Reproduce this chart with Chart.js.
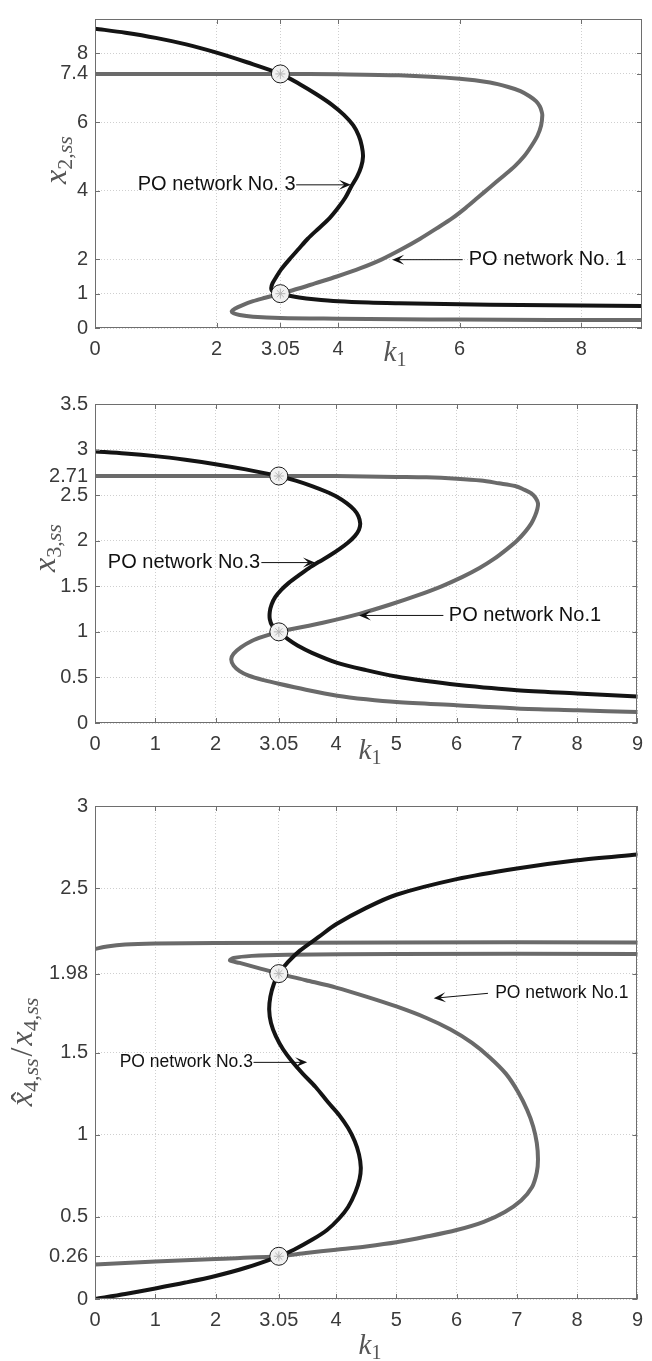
<!DOCTYPE html>
<html>
<head>
<meta charset="utf-8">
<script src="https://cdn.jsdelivr.net/npm/chart.js@4.4.1/dist/chart.umd.min.js"></script>
<style>
html,body{margin:0;padding:0;background:#ffffff;}
#wrap{position:relative;width:652px;height:1361px;overflow:hidden;}
canvas{position:absolute;left:0;}
</style>
</head>
<body>
<div id="wrap">
<canvas id="c1" width="652" height="380" style="top:0px;width:652px;height:380px"></canvas>
<canvas id="c2" width="652" height="400" style="top:380px;width:652px;height:400px"></canvas>
<canvas id="c3" width="652" height="581" style="top:780px;width:652px;height:581px"></canvas>
</div>
<script>
// ---------------- DATA ----------------
// Panel 1: x2,ss vs k1
const p1XTicks = [0, 2, 3.05, 4, 6, 8];
const p1XTickLabels = ['0', '2', '3.05', '4', '6', '8'];
const p1YTicks = [0, 1, 2, 4, 6, 7.4, 8];
const p1YTickLabels = ['0', '1', '2', '4', '6', '7.4', '8'];
const p1No3K = [0, 0.5, 1, 1.5, 2, 2.5, 3.05, 3.37, 3.65, 3.9, 4.1, 4.25, 4.34, 4.39, 4.41, 4.38, 4.31, 4.21, 4.12, 4.0, 3.86, 3.68, 3.5, 3.35, 3.2, 3.06, 2.98, 2.92, 2.9, 2.91, 2.96, 3.05, 3.2, 3.36, 3.6, 4.0, 4.5, 5, 6, 7, 8, 9];
const p1No3Y = [8.72, 8.60, 8.45, 8.26, 8.02, 7.74, 7.40, 7.1, 6.8, 6.5, 6.2, 5.9, 5.6, 5.3, 5.0, 4.7, 4.4, 4.1, 3.8, 3.5, 3.2, 2.9, 2.6, 2.3, 2.0, 1.7, 1.48, 1.3, 1.17, 1.09, 1.03, 1.0, 0.94, 0.89, 0.84, 0.78, 0.74, 0.72, 0.69, 0.67, 0.655, 0.64];
const p1No1K = [0, 1, 2, 3.05, 4, 5, 6, 6.5, 6.8, 7.0, 7.15, 7.26, 7.32, 7.35, 7.36, 7.34, 7.28, 7.18, 7.06, 6.9, 6.7, 6.5, 6.3, 6.1, 5.88, 5.62, 5.35, 5.05, 4.72, 4.38, 3.98, 3.62, 3.35, 3.05, 2.8, 2.6, 2.42, 2.3, 2.25, 2.28, 2.38, 2.6, 3.05, 4, 5, 6, 7.5, 9];
const p1No1Y = [7.4, 7.4, 7.4, 7.4, 7.39, 7.36, 7.26, 7.15, 7.02, 6.9, 6.75, 6.6, 6.45, 6.3, 6.2, 5.9, 5.6, 5.3, 5.0, 4.7, 4.4, 4.1, 3.8, 3.5, 3.2, 2.9, 2.6, 2.3, 2.0, 1.75, 1.5, 1.3, 1.15, 1.0, 0.88, 0.78, 0.66, 0.56, 0.49, 0.43, 0.38, 0.33, 0.29, 0.27, 0.255, 0.245, 0.235, 0.23];
const p1CrossK = [3.05, 3.05];
const p1CrossY = [7.4, 1.0];

// Panel 2: x3,ss vs k1
const p2XTicks = [0, 1, 2, 3.05, 4, 5, 6, 7, 8, 9];
const p2XTickLabels = ['0', '1', '2', '3.05', '4', '5', '6', '7', '8', '9'];
const p2YTicks = [0, 0.5, 1, 1.5, 2, 2.5, 2.71, 3, 3.5];
const p2YTickLabels = ['0', '0.5', '1', '1.5', '2', '2.5', '2.71', '3', '3.5'];
const p2No3K = [0, 0.5, 1, 1.5, 2, 2.5, 3.05, 3.33, 3.6, 3.83, 4.02, 4.18, 4.3, 4.37, 4.40, 4.38, 4.31, 4.2, 4.06, 3.9, 3.72, 3.55, 3.38, 3.22, 3.09, 2.99, 2.93, 2.9, 2.9, 2.94, 3.05, 3.2, 3.36, 3.6, 4.02, 4.5, 5, 5.5, 6, 7, 8, 9];
const p2No3Y = [2.98, 2.958, 2.928, 2.888, 2.84, 2.783, 2.71, 2.66, 2.6, 2.54, 2.48, 2.41, 2.34, 2.27, 2.19, 2.12, 2.05, 1.98, 1.91, 1.84, 1.77, 1.70, 1.62, 1.54, 1.46, 1.38, 1.30, 1.22, 1.14, 1.07, 1.0, 0.92, 0.85, 0.77, 0.66, 0.58, 0.51, 0.46, 0.42, 0.36, 0.325, 0.29];
const p2No1K = [0, 2, 3.05, 4, 5, 5.5, 6, 6.4, 6.7, 6.97, 7.12, 7.24, 7.31, 7.35, 7.34, 7.3, 7.24, 7.14, 7.0, 6.82, 6.62, 6.38, 6.09, 5.75, 5.35, 4.9, 4.4, 3.78, 3.05, 2.8, 2.6, 2.42, 2.3, 2.26, 2.3, 2.4, 2.55, 2.8, 3.05, 3.5, 4.02, 4.5, 5, 6, 7, 8, 9];
const p2No1Y = [2.71, 2.71, 2.71, 2.71, 2.70, 2.695, 2.68, 2.66, 2.63, 2.6, 2.56, 2.52, 2.47, 2.41, 2.35, 2.27, 2.19, 2.1, 2.0, 1.9, 1.8, 1.7, 1.6, 1.5, 1.4, 1.3, 1.2, 1.1, 1.0, 0.95, 0.9, 0.83, 0.76, 0.7, 0.63, 0.57, 0.52, 0.47, 0.43, 0.365, 0.30, 0.26, 0.23, 0.195, 0.16, 0.14, 0.12];
const p2CrossK = [3.05, 3.05];
const p2CrossY = [2.71, 1.0];

// Panel 3: x^4,ss / x4,ss vs k1
const p3XTicks = [0, 1, 2, 3.05, 4, 5, 6, 7, 8, 9];
const p3XTickLabels = ['0', '1', '2', '3.05', '4', '5', '6', '7', '8', '9'];
const p3YTicks = [0, 0.26, 0.5, 1, 1.5, 1.98, 2.5, 3];
const p3YTickLabels = ['0', '0.26', '0.5', '1', '1.5', '1.98', '2.5', '3'];
const p3No3K = [0, 0.5, 1, 1.5, 2, 2.5, 3.05, 3.3, 3.6, 3.85, 4.05, 4.2, 4.32, 4.39, 4.41, 4.38, 4.31, 4.2, 4.05, 3.86, 3.66, 3.45, 3.26, 3.12, 3.0, 2.92, 2.89, 2.91, 2.97, 3.05, 3.2, 3.4, 3.7, 4.0, 4.5, 5, 6, 7, 8, 9];
const p3No3Y = [0, 0.03, 0.064, 0.1, 0.14, 0.19, 0.26, 0.3, 0.36, 0.42, 0.49, 0.56, 0.65, 0.73, 0.8, 0.88, 0.96, 1.04, 1.12, 1.2, 1.29, 1.37, 1.45, 1.52, 1.6, 1.68, 1.76, 1.84, 1.92, 1.98, 2.05, 2.12, 2.2, 2.28, 2.38, 2.46, 2.555, 2.62, 2.67, 2.705];
const p3No1K = [0, 1, 2, 3.05, 3.5, 4, 4.5, 5, 5.5, 6, 6.45, 6.8, 7.07, 7.25, 7.33, 7.35, 7.33, 7.27, 7.17, 7.02, 6.82, 6.55, 6.25, 5.9, 5.5, 5.0, 4.5, 4.0, 3.5, 3.05, 2.7, 2.4, 2.24, 2.3, 2.6, 3.2, 5, 9];
const p3No1Y = [0.21, 0.228, 0.244, 0.26, 0.28, 0.30, 0.32, 0.345, 0.38, 0.42, 0.47, 0.53, 0.6, 0.68, 0.77, 0.85, 0.95, 1.05, 1.15, 1.26, 1.37, 1.47, 1.56, 1.64, 1.71, 1.78, 1.84, 1.895, 1.94, 1.98, 2.015, 2.045, 2.06, 2.075, 2.088, 2.095, 2.1, 2.1];
const p3No1bK = [0, 0.2, 0.5, 1, 2, 5, 9];
const p3No1bY = [2.13, 2.145, 2.157, 2.163, 2.166, 2.17, 2.17];
const p3CrossK = [3.05, 3.05];
const p3CrossY = [1.98, 0.26];

// ---------------- STYLE / HELPERS ----------------
const SANS = '"Liberation Sans", Arial, Helvetica, sans-serif';
const SERIF = '"Liberation Serif", "Times New Roman", serif';
const BLACK = '#141414';
const GRAY = '#6a6a6a';
const FRAME = '#6e6e6e';
const TICKTXT = '#3a3a3a';
const TITLE = '#555555';

function pts(ks, ys) { return ks.map((k, i) => ({ x: k, y: ys[i] })); }

function drawArrow(ctx, x1, y1, x2, y2) {
  const L = 12, W = 5;
  const ang = Math.atan2(y2 - y1, x2 - x1);
  const c = Math.cos(ang), s = Math.sin(ang);
  ctx.save();
  ctx.strokeStyle = '#111'; ctx.lineWidth = 1;
  ctx.beginPath(); ctx.moveTo(x1, y1); ctx.lineTo(x2 - c * L * 0.5, y2 - s * L * 0.5); ctx.stroke();
  ctx.fillStyle = '#111';
  ctx.beginPath();
  ctx.moveTo(x2, y2);
  ctx.lineTo(x2 - c * L - s * W, y2 - s * L + c * W);
  ctx.lineTo(x2 - c * L * 0.55, y2 - s * L * 0.55);
  ctx.lineTo(x2 - c * L + s * W, y2 - s * L - c * W);
  ctx.closePath(); ctx.fill();
  ctx.restore();
}

function partFont(p) { return (p.it ? 'italic ' : '') + p.s + 'px ' + SERIF; }
function partsWidth(ctx, parts) {
  let w = 0;
  for (const p of parts) { ctx.font = partFont(p); w += ctx.measureText(p.t).width + (p.gap || 0); }
  return w;
}
function drawParts(ctx, parts, x, y) {
  let cx = x;
  for (const p of parts) {
    ctx.font = partFont(p);
    const w = ctx.measureText(p.t).width;
    ctx.fillText(p.t, cx, y + (p.dy || 0));
    if (p.hat) {
      ctx.font = p.s + 'px ' + SERIF;
      const hw = ctx.measureText('\u02C6').width;
      ctx.fillText('\u02C6', cx + w / 2 - hw / 2 + 2, y + (p.dy || 0) + 1);
    }
    cx += w + (p.gap || 0);
  }
}

function makeChart(id, cfg) {
  const ctx = document.getElementById(id).getContext('2d');
  const lookup = (ticks, labels) => (v) => {
    for (let i = 0; i < ticks.length; i++) if (Math.abs(ticks[i] - v) < 1e-9) return labels[i];
    return '';
  };
  const decor = {
    id: 'decor_' + id,
    afterDatasetsDraw(chart) {
      const c = chart.ctx, a = chart.chartArea, xs = chart.scales.x, ys = chart.scales.y;
      c.save();
      c.strokeStyle = FRAME; c.lineWidth = 1;
      c.strokeRect(Math.round(a.left) + 0.5, Math.round(a.top) + 0.5, Math.round(a.right - a.left) - 1, Math.round(a.bottom - a.top) - 1);
      const T = 5;
      c.beginPath();
      cfg.xTicks.forEach(v => {
        const px = Math.round(xs.getPixelForValue(v)) + 0.5;
        c.moveTo(px, a.bottom); c.lineTo(px, a.bottom - T);
        c.moveTo(px, a.top); c.lineTo(px, a.top + T);
      });
      cfg.yTicks.forEach(v => {
        const py = Math.round(ys.getPixelForValue(v)) + 0.5;
        c.moveTo(a.left, py); c.lineTo(a.left + T, py);
        c.moveTo(a.right, py); c.lineTo(a.right - T, py);
      });
      c.stroke();
      c.restore();
    },
    afterDraw(chart) {
      const c = chart.ctx, xs = chart.scales.x, ys = chart.scales.y;
      c.save();
      cfg.notes.forEach(n => {
        c.font = n.size + 'px ' + SANS;
        c.fillStyle = '#111';
        c.textBaseline = 'middle';
        c.textAlign = n.align;
        c.fillText(n.text, xs.getPixelForValue(n.tx), ys.getPixelForValue(n.ty));
        drawArrow(c, xs.getPixelForValue(n.ax1), ys.getPixelForValue(n.ay1), xs.getPixelForValue(n.ax2), ys.getPixelForValue(n.ay2));
      });
      c.textAlign = 'left'; c.textBaseline = 'alphabetic'; c.fillStyle = TITLE;
      const xw = partsWidth(c, cfg.xTitle);
      drawParts(c, cfg.xTitle, cfg.xTitlePos[0] - xw / 2, cfg.xTitlePos[1]);
      c.save();
      c.translate(cfg.yTitlePos[0], cfg.yTitlePos[1]);
      c.rotate(-Math.PI / 2);
      const yw = partsWidth(c, cfg.yTitle);
      drawParts(c, cfg.yTitle, -yw / 2, 8);
      c.restore();
      c.restore();
    }
  };
  return new Chart(ctx, {
    type: 'scatter',
    data: { datasets: cfg.datasets },
    options: {
      responsive: false, animation: false, devicePixelRatio: 1,
      layout: { padding: { top: cfg.padTop, right: 7, left: 0, bottom: 0 } },
      plugins: { legend: { display: false }, tooltip: { enabled: false } },
      scales: {
        x: {
          type: 'linear', min: 0, max: 9,
          afterBuildTicks: s => { s.ticks = cfg.xTicks.map(v => ({ value: v })); },
          afterFit: s => { s.height = cfg.xAxisH; },
          ticks: { autoSkip: false, maxRotation: 0, padding: 9, color: TICKTXT, font: { family: SANS, size: 20 }, callback: lookup(cfg.xTicks, cfg.xTickLabels) },
          grid: { color: '#cfcfcf', lineWidth: 1, drawTicks: false },
          border: { display: false, dash: [1, 2] }
        },
        y: {
          type: 'linear', min: 0, max: cfg.yMax,
          afterBuildTicks: s => { s.ticks = cfg.yTicks.map(v => ({ value: v })); },
          afterFit: s => { s.width = 95; },
          ticks: { autoSkip: false, padding: 7, color: TICKTXT, font: { family: SANS, size: 20 }, callback: lookup(cfg.yTicks, cfg.yTickLabels) },
          grid: { color: '#cfcfcf', lineWidth: 1, drawTicks: false },
          border: { display: false, dash: [1, 2] }
        }
      }
    },
    plugins: [decor]
  });
}

function curve(label, ks, ys, color, order) {
  return { label, data: pts(ks, ys), showLine: true, borderColor: color, borderWidth: 4, pointRadius: 0, tension: 0.3, cubicInterpolationMode: 'default', fill: false, order, borderCapStyle: 'round', borderJoinStyle: 'round' };
}
function crossings(ks, ys) {
  return [
    { label: 'equal', data: pts(ks, ys), showLine: false, pointStyle: 'circle', pointRadius: 9, pointBackgroundColor: '#f1f1f1', pointBorderColor: '#1a1a1a', pointBorderWidth: 1, order: 1 },
    { label: 'equal*', data: pts(ks, ys), showLine: false, pointStyle: 'star', pointRadius: 5, pointBorderColor: '#b4b4b4', pointBackgroundColor: 'rgba(0,0,0,0)', pointBorderWidth: 1, order: 0 }
  ];
}

const kTitle = [{ t: 'k', it: true, s: 29 }, { t: '1', it: false, s: 20, dy: 5 }];

makeChart('c1', {
  padTop: 15, xAxisH: 52, yMax: 9,
  xTicks: p1XTicks, xTickLabels: p1XTickLabels, yTicks: p1YTicks, yTickLabels: p1YTickLabels,
  datasets: [curve('PO network No. 3', p1No3K, p1No3Y, BLACK, 2), curve('PO network No. 1', p1No1K, p1No1Y, GRAY, 3)].concat(crossings(p1CrossK, p1CrossY)),
  notes: [
    { text: 'PO network No. 3', tx: 3.30, ty: 4.17, align: 'right', ax1: 3.31, ay1: 4.17, ax2: 4.21, ay2: 4.17, size: 20 },
    { text: 'PO network No. 1', tx: 6.15, ty: 1.99, align: 'left', ax1: 6.05, ay1: 1.99, ax2: 4.89, ay2: 1.99, size: 20 }
  ],
  xTitle: kTitle, xTitlePos: [395, 361],
  yTitle: [{ t: 'x', it: true, s: 32 }, { t: '2', it: false, s: 22, dy: 6 }, { t: ',', it: false, s: 22, dy: 6 }, { t: 'ss', it: true, s: 22, dy: 6 }],
  yTitlePos: [58, 160]
});

makeChart('c2', {
  padTop: 24, xAxisH: 57, yMax: 3.5,
  xTicks: p2XTicks, xTickLabels: p2XTickLabels, yTicks: p2YTicks, yTickLabels: p2YTickLabels,
  datasets: [curve('PO network No.3', p2No3K, p2No3Y, BLACK, 2), curve('PO network No.1', p2No1K, p2No1Y, GRAY, 3)].concat(crossings(p2CrossK, p2CrossY)),
  notes: [
    { text: 'PO network No.3', tx: 2.74, ty: 1.76, align: 'right', ax1: 2.76, ay1: 1.76, ax2: 3.65, ay2: 1.76, size: 20 },
    { text: 'PO network No.1', tx: 5.87, ty: 1.18, align: 'left', ax1: 5.78, ay1: 1.18, ax2: 4.38, ay2: 1.18, size: 20 }
  ],
  xTitle: kTitle, xTitlePos: [370, 379],
  yTitle: [{ t: 'x', it: true, s: 32 }, { t: '3', it: false, s: 22, dy: 6 }, { t: ',', it: false, s: 22, dy: 6 }, { t: 'ss', it: true, s: 22, dy: 6 }],
  yTitlePos: [47, 168]
});

makeChart('c3', {
  padTop: 26, xAxisH: 62, yMax: 3,
  xTicks: p3XTicks, xTickLabels: p3XTickLabels, yTicks: p3YTicks, yTickLabels: p3YTickLabels,
  datasets: [curve('PO network No.3', p3No3K, p3No3Y, BLACK, 2), curve('PO network No.1', p3No1K, p3No1Y, GRAY, 3), curve('PO network No.1 (upper)', p3No1bK, p3No1bY, GRAY, 4)].concat(crossings(p3CrossK, p3CrossY)),
  notes: [
    { text: 'PO network No.3', tx: 2.62, ty: 1.44, align: 'right', ax1: 2.63, ay1: 1.44, ax2: 3.52, ay2: 1.44, size: 17.5 },
    { text: 'PO network No.1', tx: 6.64, ty: 1.86, align: 'left', ax1: 6.52, ay1: 1.86, ax2: 5.62, ay2: 1.83, size: 17.5 }
  ],
  xTitle: kTitle, xTitlePos: [370, 574],
  yTitle: [{ t: 'x', it: true, s: 32, hat: true }, { t: '4', it: false, s: 22, dy: 6 }, { t: ',', it: false, s: 22, dy: 6 }, { t: 'ss', it: true, s: 22, dy: 6, gap: 2 },
           { t: '/', it: false, s: 32, gap: 2 }, { t: 'x', it: true, s: 32 }, { t: '4', it: false, s: 22, dy: 6 }, { t: ',', it: false, s: 22, dy: 6 }, { t: 'ss', it: true, s: 22, dy: 6 }],
  yTitlePos: [24, 272]
});
</script>
</body>
</html>
